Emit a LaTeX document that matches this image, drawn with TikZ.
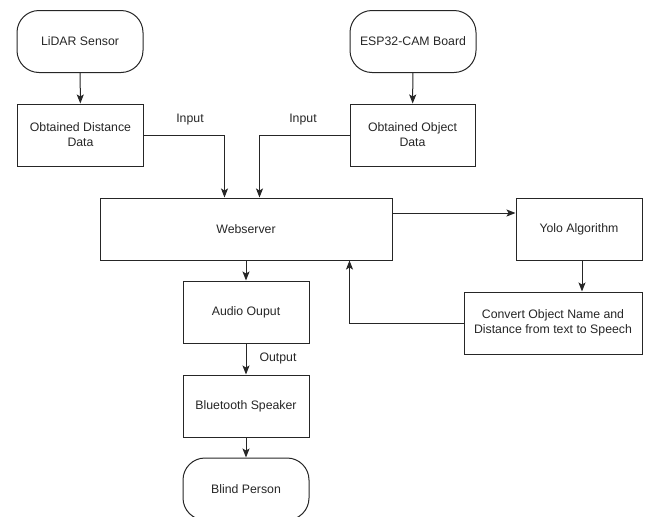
\documentclass[tikz,border=0pt]{standalone}
\usepackage{fontspec}
\setmainfont{Liberation Sans}
\usetikzlibrary{arrows.meta}
\begin{document}
\begin{tikzpicture}[x=1pt,y=-1pt,
  box/.style={draw=black!85, line width=1pt, minimum width=126pt, minimum height=62pt, inner sep=2pt, align=center, font=\fontsize{12.3}{15}\selectfont, text=black!85},
  term/.style={box, rounded corners=22pt},
  arr/.style={draw=black!85, line width=1pt, -{Stealth[length=9pt,width=7pt,inset=2pt]}},
  lbl/.style={font=\fontsize{12.3}{15}\selectfont, text=black!85}]
\useasboundingbox (0,0) rectangle (646,517);
\node[term] (lidar) at (80,41.5) {LiDAR Sensor};
\node[box] (dist) at (80.5,135) {Obtained Distance\\Data};
\node[term] (esp) at (413,41.5) {ESP32-CAM Board};
\node[box, minimum width=125pt] (obj) at (412.5,135) {Obtained Object\\Data};
\node[box, minimum width=292pt] (web) at (246,229) {Webserver};
\node[box] (yolo) at (579,229) {Yolo Algorithm};
\node[box, minimum width=178pt] (conv) at (553,323) {Convert Object Name and\\Distance from text to Speech};
\node[box] (audio) at (246,312) {Audio Ouput};
\node[box] (bt) at (246,406) {Bluetooth Speaker};
\node[term] (blind) at (246,489) {Blind Person};

\draw[arr] (lidar) -- (dist);
\draw[arr] (esp) -- (obj);
\draw[arr] (dist.east) -| ([xshift=125pt]web.north west);
\draw[arr] (obj.west) -| ([xshift=160pt]web.north west);
\draw[arr] ([yshift=16pt]web.east) -- ([yshift=16pt]yolo.west);
\draw[arr] ([xshift=3pt]yolo.south) -- ([xshift=3pt]yolo.south |- conv.north);
\draw[arr] (conv.west) -| ([xshift=250pt]web.south west);
\draw[arr] (web.south) -- (audio.north);
\draw[arr] (audio) -- (bt);
\draw[arr] (bt) -- (blind);

\node[lbl] (in1) at (190,120) {Input};
\node[lbl] (in2) at (303,120) {Input};
\node[lbl] (out) at (278,358) {Output};
\end{tikzpicture}
\end{document}
